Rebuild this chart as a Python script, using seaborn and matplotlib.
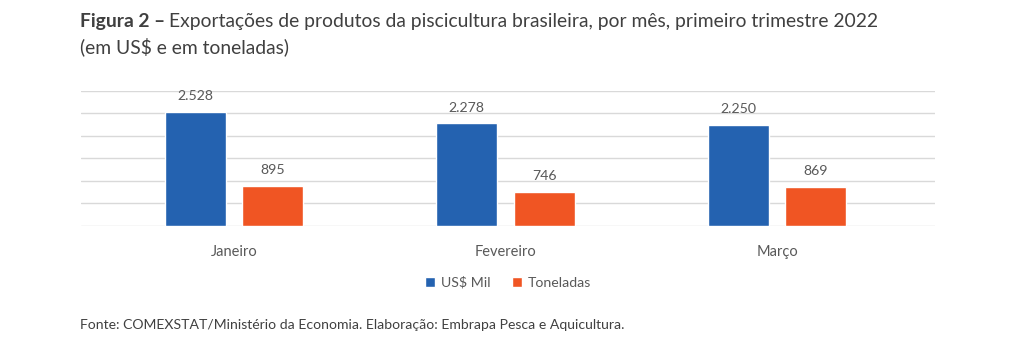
import matplotlib
matplotlib.use("Agg")
import matplotlib.pyplot as plt
import seaborn as sns
import pandas as pd

meses = ["Janeiro", "Fevereiro", "Março"]
us_mil = [2528, 2278, 2250]
toneladas = [895, 746, 869]
series_names = ["US$ Mil", "Toneladas"]
value_labels_us = ["2.528", "2.278", "2.250"]
value_labels_ton = ["895", "746", "869"]

df = pd.DataFrame({
    "Mês": meses * 2,
    "Série": [series_names[0]] * 3 + [series_names[1]] * 3,
    "Valor": us_mil + toneladas,
})

sns.set_theme(style="white")
FONT = ["Lato", "DejaVu Sans"]
plt.rcParams["font.family"] = FONT

BLUE = "#2462B0"
ORANGE = "#F05523"
GRAY_TXT = "#595959"

fig = plt.figure(figsize=(10.24, 3.46), dpi=100)
ax = fig.add_axes([81 / 1024, 1 - 225.7 / 346, (935 - 81) / 1024, (225.7 - 91) / 346])

sns.barplot(data=df, x="Mês", y="Valor", hue="Série", order=meses,
            hue_order=series_names, palette=[BLUE, ORANGE],
            width=0.57, gap=0.21, ax=ax, legend=True, saturation=1)

ax.set_ylim(0, 3000)
ax.set_xlim(-0.564, 2.582)
ax.set_yticks(range(0, 3001, 500))
ax.yaxis.grid(True, color="#D9D9D9", linewidth=1.0)
ax.set_axisbelow(True)
ax.tick_params(axis="y", left=False, labelleft=False)
ax.tick_params(axis="x", bottom=False, labelsize=10.5, labelcolor=GRAY_TXT, pad=8)
for s in ax.spines.values():
    s.set_visible(False)
ax.set_xlabel("")
ax.set_ylabel("")

for cont, labs in zip(ax.containers, [value_labels_us, value_labels_ton]):
    ax.bar_label(cont, labels=labs, padding=7, fontsize=10.2, color=GRAY_TXT)

leg = ax.legend(loc="center", bbox_to_anchor=(0.5, 1 - (282.5 - 91) / (225.7 - 91)),
                bbox_transform=ax.transAxes, ncol=2, frameon=False,
                fontsize=10.2, handlelength=0.7, handleheight=0.7,
                handletextpad=0.4, columnspacing=1.5)
for t in leg.get_texts():
    t.set_color(GRAY_TXT)

# Title
renderer = fig.canvas.get_renderer()
t1 = fig.text(80 / 1024, 1 - 22 / 346, "Figura 2 –", fontsize=13.9, fontweight="bold",
              color="#404040", va="center", ha="left")
bb = t1.get_window_extent(renderer=renderer)
fig.text((bb.x1 + 4) / 1024, 1 - 22 / 346,
         "Exportações de produtos da piscicultura brasileira, por mês, primeiro trimestre 2022",
         fontsize=13.9, color="#404040", va="center", ha="left")
fig.text(80 / 1024, 1 - 47 / 346, "(em US$ e em toneladas)", fontsize=13.9,
         color="#404040", va="center", ha="left")

fig.text(80 / 1024, 1 - 325 / 346,
         "Fonte: COMEXSTAT/Ministério da Economia. Elaboração: Embrapa Pesca e Aquicultura.",
         fontsize=10.1, color="#404040", va="center", ha="left")

fig.savefig("out.png", dpi=100, facecolor="white")
